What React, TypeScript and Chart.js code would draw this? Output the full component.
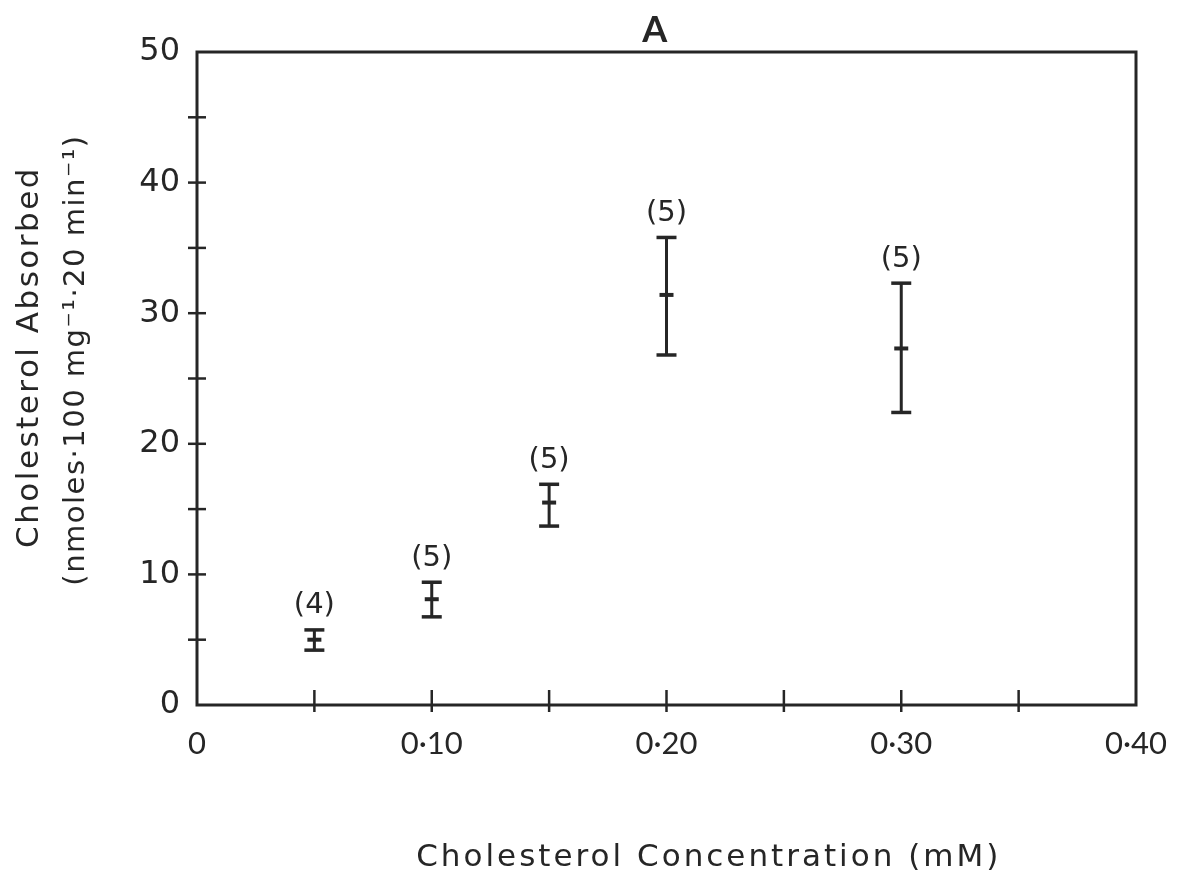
import React, { useEffect, useRef } from "react";
import { Chart, registerables } from "chart.js";

Chart.register(...registerables);

const xValues = [0.05, 0.1, 0.15, 0.2, 0.3];
const means = [5.0, 8.1, 15.5, 31.4, 27.3];
const upper = [5.75, 9.4, 16.9, 35.8, 32.3];
const lower = [4.2, 6.75, 13.7, 26.8, 22.4];
const nLabels = ["(4)", "(5)", "(5)", "(5)", "(5)"];
const xTickLabels = ["0", "0·10", "0·20", "0·30", "0·40"];
const yTickLabels = ["0", "10", "20", "30", "40", "50"];
const panelLabel = "A";
const xTitle = "Cholesterol Concentration (mM)";
const yTitle = ["Cholesterol Absorbed", "(nmoles·100 mg⁻¹·20 min⁻¹)"];

const INK = "#262626";
const FONT = "Lato, 'Noto Sans', sans-serif";
const WIDE = "'DejaVu Sans', sans-serif";

const setSpacing = (ctx: any, v: string) => {
  try {
    ctx.letterSpacing = v;
  } catch (e) {}
};

const decorPlugin = {
  id: "decor",
  afterDraw(chart: any) {
    const { ctx, chartArea } = chart;
    const xs = chart.scales.x;
    const ys = chart.scales.y;
    ctx.save();
    ctx.strokeStyle = INK;
    ctx.fillStyle = INK;
    ctx.lineWidth = 3;
    ctx.lineCap = "square";
    ctx.strokeRect(chartArea.left, chartArea.top, chartArea.right - chartArea.left, chartArea.bottom - chartArea.top);
    ctx.lineWidth = 2.5;
    ctx.lineCap = "butt";
    ys.ticks.forEach((t: any) => {
      if (t.value <= ys.min || t.value >= ys.max) return;
      const y = ys.getPixelForValue(t.value);
      ctx.beginPath();
      ctx.moveTo(chartArea.left - 9, y);
      ctx.lineTo(chartArea.left + 9, y);
      ctx.stroke();
    });
    xs.ticks.forEach((t: any) => {
      if (t.value <= xs.min + 1e-9 || t.value >= xs.max - 1e-9) return;
      const x = xs.getPixelForValue(t.value);
      ctx.beginPath();
      ctx.moveTo(x, chartArea.bottom - 15);
      ctx.lineTo(x, chartArea.bottom + 7);
      ctx.stroke();
    });
    ctx.textAlign = "center";
    ctx.textBaseline = "middle";
    // n labels
    ctx.font = `29px ${WIDE}`;
    xValues.forEach((xv, i) => {
      const x = xs.getPixelForValue(xv);
      const y = ys.getPixelForValue(upper[i]);
      ctx.fillText(nLabels[i], x, y - 24);
    });
    // panel label
    ctx.font = `bold 36px ${FONT}`;
    ctx.fillText(panelLabel, xs.getPixelForValue(0.195), 30);
    // titles
    setSpacing(ctx, "3px");
    ctx.font = `31px ${WIDE}`;
    ctx.fillText(xTitle, xs.getPixelForValue(0.218), 858);
    ctx.save();
    setSpacing(ctx, "2.5px");
    ctx.font = `31px ${WIDE}`;
    ctx.translate(30, 357);
    ctx.rotate(-Math.PI / 2);
    ctx.fillText(yTitle[0], 0, 0);
    ctx.restore();
    ctx.save();
    setSpacing(ctx, "1.5px");
    ctx.font = `29px ${WIDE}`;
    ctx.translate(76, 360);
    ctx.rotate(-Math.PI / 2);
    ctx.fillText(yTitle[1], 0, 0);
    ctx.restore();
    ctx.restore();
  },
};

export default function App() {
  const ref = useRef<HTMLCanvasElement | null>(null);
  useEffect(() => {
    if (!ref.current) return;
    const barData: any[] = [];
    xValues.forEach((x, i) => {
      barData.push({ x, y: lower[i] });
      barData.push({ x, y: upper[i] });
      barData.push({ x, y: null });
    });
    const capData: any[] = [];
    xValues.forEach((x, i) => {
      capData.push({ x, y: lower[i] });
      capData.push({ x, y: upper[i] });
    });
    const meanData = xValues.map((x, i) => ({ x, y: means[i] }));
    const chart = new Chart(ref.current, {
      type: "scatter",
      data: {
        datasets: [
          {
            data: barData,
            showLine: true,
            spanGaps: false,
            borderColor: INK,
            borderWidth: 3,
            pointRadius: 0,
          } as any,
          {
            data: capData,
            pointStyle: "line",
            pointRadius: 10,
            pointBorderWidth: 3.5,
            borderColor: INK,
            backgroundColor: INK,
          } as any,
          {
            data: meanData,
            pointStyle: "line",
            pointRadius: 7,
            pointBorderWidth: 4,
            borderColor: INK,
            backgroundColor: INK,
          } as any,
        ],
      },
      options: {
        animation: false,
        responsive: false,
        devicePixelRatio: 1,
        layout: { padding: { top: 52, right: 66, left: 0, bottom: 0 } },
        plugins: { legend: { display: false }, tooltip: { enabled: false }, title: { display: false } },
        scales: {
          x: {
            type: "linear",
            min: 0,
            max: 0.4,
            grid: { display: false, drawTicks: false },
            border: { display: false },
            ticks: {
              stepSize: 0.05,
              padding: 20,
              color: INK,
              font: { family: FONT, size: 31 },
              maxRotation: 0,
              autoSkip: false,
              callback: (_v: any, i: number) => (i % 2 === 0 ? xTickLabels[i / 2] : ""),
            },
            afterFit: (s: any) => {
              s.height = 176;
            },
          },
          y: {
            type: "linear",
            min: 0,
            max: 50,
            grid: { display: false, drawTicks: false },
            border: { display: false },
            ticks: {
              stepSize: 5,
              padding: 17,
              color: INK,
              font: { family: WIDE, size: 32 },
              autoSkip: false,
              callback: (v: any) => (Math.round(v) % 10 === 0 ? yTickLabels[Math.round(v) / 10] : ""),
            },
            afterFit: (s: any) => {
              s.width = 197;
            },
          },
        },
      } as any,
      plugins: [decorPlugin],
    });
    return () => chart.destroy();
  }, []);
  return (
    <div style={{ position: "fixed", left: 0, top: 0, width: 1202, height: 881, background: "#fff" }}>
      <canvas ref={ref} width={1202} height={881} style={{ width: 1202, height: 881 }} />
    </div>
  );
}
